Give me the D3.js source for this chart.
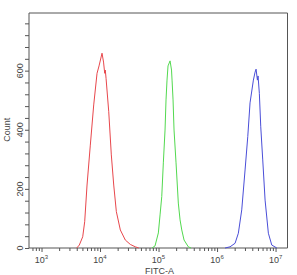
<!DOCTYPE html>
<html lang="en">
    <head>
        <meta charset="utf-8">
        <title>FITC-A histogram</title>
        <script type="text/javascript" src="https://cdn.jsdelivr.net/npm/d3@7/dist/d3.min.js"></script>
        <style type="text/css">
        body { margin: 0; background: #fff; }
        text { font-family: "Liberation Sans", Arial, sans-serif; fill: #444; }
        </style>
    </head>
    <body>
        <script type="text/javascript">
            // chart size and plot box
            var w = 297;
            var h = 275;
            var margin = { top: 13, right: 9.5, bottom: 27, left: 29 };

            // tick values
            var xDecades = [3, 4, 5, 6, 7];
            var yLabels = [0, 200, 400, 600];

            // red histogram
            var redFitc = [4000, 4426, 5058, 5470, 5998, 6823, 7798, 8892, 9616, 10814, 11482, 12023, 12303, 12677,
                           14093, 15596, 17140, 19011, 22233, 27040, 32961, 40087, 45920];
            var redCount = [0, 10, 38, 89, 213, 348, 484, 591, 616, 659, 629, 591, 602, 574,
                            461, 315, 213, 123, 61, 27, 12, 4, 0];

            // green histogram
            var greenFitc = [77446, 87096, 99300, 106170, 113500, 120780, 129120, 134280, 139640, 145210, 157400,
                             166720, 170220, 177010, 184080, 199070, 217770, 233350, 249460, 272900, 322850, 359700];
            var greenCount = [0, 7, 51, 112, 174, 288, 399, 501, 568, 616, 633,
                              602, 568, 501, 399, 288, 152, 95, 61, 27, 4, 0];

            // blue histogram
            var blueFitc = [1371000, 1667000, 2032000, 2312000, 2642000, 3013000, 3350000, 3664000, 4178000, 4467000,
                            4645000, 4898000, 5023000, 5284000, 5585000, 6039000, 6622000, 7534000, 8610000, 10500000];
            var blueCount = [0, 4, 16, 50, 129, 264, 377, 491, 568, 595,
                             605, 568, 582, 523, 410, 298, 162, 50, 10, 0];

            var series = [
                { fitc: redFitc, count: redCount, color: "#e8474c" },
                { fitc: greenFitc, count: greenCount, color: "#52d94f" },
                { fitc: blueFitc, count: blueCount, color: "#4a4ed8" }
            ];

            var svg = d3.select("body")
                        .append("svg")
                        .attr("width", w)
                        .attr("height", h);

            var x = d3.scaleLog()
                .domain([611, 1.6e7])
                .range([margin.left, w - margin.right]);

            var y = d3.scaleLinear()
                .domain([0, 795])
                .range([h - margin.bottom, margin.top]);

            var x0 = margin.left, x1 = w - margin.right;
            var y0 = h - margin.bottom, y1 = margin.top;

            // frame (top + right)
            svg.append("path")
                .attr("d", "M" + x0 + "," + y1 + "H" + x1 + "V" + y0)
                .attr("fill", "none")
                .attr("stroke", "#555")
                .attr("stroke-width", 1);

            // x axis: log ticks, minor 2..9 per decade
            var xTicks = [];
            for (var k = 2; k <= 7; k++) {
                for (var m = 1; m <= 9; m++) {
                    var v = m * Math.pow(10, k);
                    if (v >= x.domain()[0] && v <= x.domain()[1]) xTicks.push(v);
                }
            }
            var xAxis = svg.append("g")
                .attr("transform", "translate(0," + y0 + ")")
                .call(d3.axisBottom(x).tickValues(xTicks).tickSize(3).tickFormat(""));
            xAxis.select(".domain").attr("stroke", "#555").attr("d", "M" + x0 + ",0H" + x1);
            xAxis.selectAll(".tick line").attr("stroke", "#555")
                .attr("y2", function(d) { return Math.abs(Math.log10(d) % 1) < 1e-9 ? 4 : 3; });

            var xl = svg.append("g");
            xDecades.forEach(function(e) {
                var t = xl.append("text")
                    .attr("x", x(Math.pow(10, e)))
                    .attr("y", y0 + 15)
                    .attr("text-anchor", "middle")
                    .attr("font-size", "9px");
                t.append("tspan").text("10");
                t.append("tspan").attr("dy", -4).attr("font-size", "6px").text(e);
            });

            svg.append("text")
                .attr("x", x(1e5) + 1)
                .attr("y", y0 + 26)
                .attr("text-anchor", "middle")
                .attr("font-size", "9px")
                .text("FITC-A");

            // y axis: minor tick every 40
            var yAxis = svg.append("g")
                .attr("transform", "translate(" + x0 + ",0)")
                .call(d3.axisLeft(y).tickValues(d3.range(0, 761, 40)).tickSize(4).tickFormat(""));
            yAxis.select(".domain").attr("stroke", "#555").attr("d", "M0," + y0 + "V" + y1);
            yAxis.selectAll(".tick line").attr("stroke", "#555");

            svg.selectAll("text.ylab")
                .data(yLabels)
                .enter()
                .append("text")
                .attr("class", "ylab")
                .attr("transform", function(d) { return "translate(" + (x0 - 6) + "," + y(d) + ") rotate(-90)"; })
                .attr("text-anchor", "middle")
                .attr("font-size", "9px")
                .text(function(d) { return d; });

            svg.append("text")
                .attr("transform", "translate(10," + y(400) + ") rotate(-90)")
                .attr("text-anchor", "middle")
                .attr("font-size", "9px")
                .text("Count");

            // histogram lines
            var line = d3.line()
                .x(function(d) { return x(d[0]); })
                .y(function(d) { return y(d[1]); });

            series.forEach(function(s) {
                svg.append("path")
                    .datum(d3.zip(s.fitc, s.count))
                    .attr("fill", "none")
                    .attr("stroke", s.color)
                    .attr("stroke-width", 1)
                    .attr("d", line);
            });
        </script>
    </body>
</html>
